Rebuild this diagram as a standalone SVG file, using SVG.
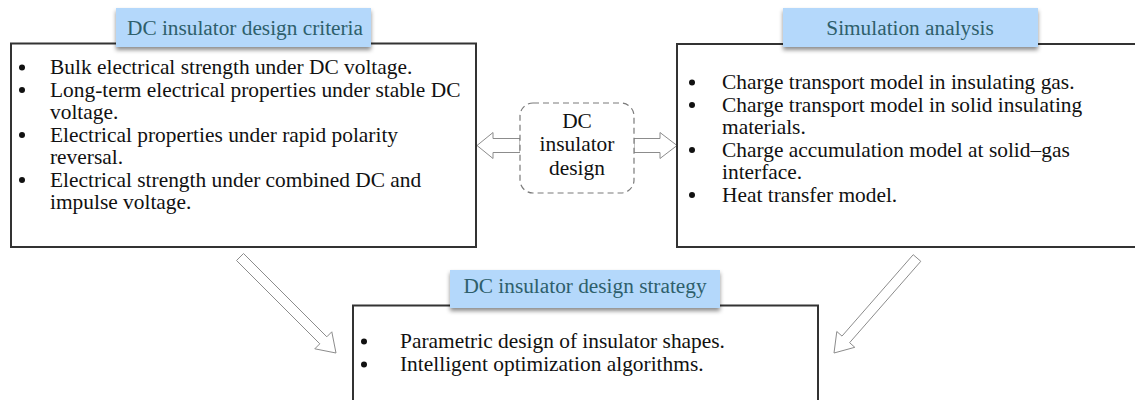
<svg xmlns="http://www.w3.org/2000/svg" width="1135" height="400" viewBox="0 0 1135 400">
  <style>
    .box { fill: #ffffff; stroke: #333333; stroke-width: 2; }
    .tag { fill: #b4d8fb; }
    .tag-text { font-family: "Liberation Serif", "Times New Roman", serif; font-size: 21.3px; fill: #2e5f6b; text-anchor: middle; }
    .body { font-family: "Liberation Serif", "Times New Roman", serif; font-size: 21.4px; fill: #111111; }
    .center { text-anchor: middle; }
    .dot { fill: #111111; }
    .hollow { fill: #ffffff; stroke: #8c8c8c; stroke-width: 1; stroke-linejoin: miter; }
    .dash { fill: #ffffff; stroke: #7a7a7a; stroke-width: 1.2; stroke-dasharray: 6 4; }
  </style>
  <defs>
    <filter id="tagShadow" x="-10%" y="-30%" width="120%" height="180%">
      <feDropShadow dx="0" dy="3" stdDeviation="2" flood-color="#000000" flood-opacity="0.45"/>
    </filter>
  </defs>

  <rect width="1135" height="400" fill="#ffffff"/>

  <!-- connectors: hollow block arrows -->
  <g id="connectors">
    <!-- centre to left criteria box -->
    <polygon class="hollow" points="520,138.5 493,138.5 493,132.5 477,145.5 493,158.5 493,152.5 520,152.5"/>
    <!-- centre to right simulation box -->
    <polygon class="hollow" points="634,138.5 660,138.5 660,132.5 677,145.5 660,158.5 660,152.5 634,152.5"/>
    <!-- criteria to strategy -->
    <polygon class="hollow" points="243.5,253.5 326.8,336.8 331.8,331.8 336,353 314.8,348.8 319.8,343.8 236.5,260.5"/>
    <!-- simulation to strategy -->
    <polygon class="hollow" points="920.8,261.3 849.6,342.7 854.8,347.3 834,353 836.8,331.5 842,336.1 913.2,254.7"/>
  </g>

  <!-- left: design criteria -->
  <g id="criteria">
    <rect class="box" x="11" y="43.5" width="465" height="203.5"/>
    <rect class="tag" x="116" y="8" width="255" height="39" filter="url(#tagShadow)"/>
    <text class="tag-text" x="245" y="35">DC insulator design criteria</text>
    <circle class="dot" cx="22" cy="67.5" r="3"/>
    <circle class="dot" cx="22" cy="90" r="3"/>
    <circle class="dot" cx="22" cy="135" r="3"/>
    <circle class="dot" cx="22" cy="180" r="3"/>
    <text class="body" x="50" y="74">Bulk electrical strength under DC voltage.</text>
    <text class="body" x="50" y="96.5">Long-term electrical properties under stable DC</text>
    <text class="body" x="50" y="119">voltage.</text>
    <text class="body" x="50" y="141.5">Electrical properties under rapid polarity</text>
    <text class="body" x="50" y="164">reversal.</text>
    <text class="body" x="50" y="186.5">Electrical strength under combined DC and</text>
    <text class="body" x="50" y="209">impulse voltage.</text>
  </g>

  <!-- centre: design -->
  <g id="design">
    <rect class="dash" x="520" y="103" width="114" height="90" rx="13" ry="13"/>
    <text class="body center" x="577" y="128">DC</text>
    <text class="body center" x="577" y="151">insulator</text>
    <text class="body center" x="577" y="174.5">design</text>
  </g>

  <!-- right: simulation analysis -->
  <g id="simulation">
    <rect class="box" x="677" y="44" width="470" height="203"/>
    <rect class="tag" x="783" y="8" width="255" height="39" filter="url(#tagShadow)"/>
    <text class="tag-text" x="910" y="35">Simulation analysis</text>
    <circle class="dot" cx="692" cy="82.5" r="3"/>
    <circle class="dot" cx="692" cy="105" r="3"/>
    <circle class="dot" cx="692" cy="150" r="3"/>
    <circle class="dot" cx="692" cy="195" r="3"/>
    <text class="body" x="722" y="89">Charge transport model in insulating gas.</text>
    <text class="body" x="722" y="111.5">Charge transport model in solid insulating</text>
    <text class="body" x="722" y="134">materials.</text>
    <text class="body" x="722" y="156.5">Charge accumulation model at solid–gas</text>
    <text class="body" x="722" y="179">interface.</text>
    <text class="body" x="722" y="201.5">Heat transfer model.</text>
  </g>

  <!-- bottom: design strategy -->
  <g id="strategy">
    <rect class="box" x="353" y="305.5" width="465" height="120"/>
    <rect class="tag" x="450" y="270" width="270" height="38" filter="url(#tagShadow)"/>
    <text class="tag-text" x="585" y="293">DC insulator design strategy</text>
    <circle class="dot" cx="364" cy="341.5" r="3"/>
    <circle class="dot" cx="364" cy="364.5" r="3"/>
    <text class="body" x="400" y="348">Parametric design of insulator shapes.</text>
    <text class="body" x="400" y="371">Intelligent optimization algorithms.</text>
  </g>
</svg>
